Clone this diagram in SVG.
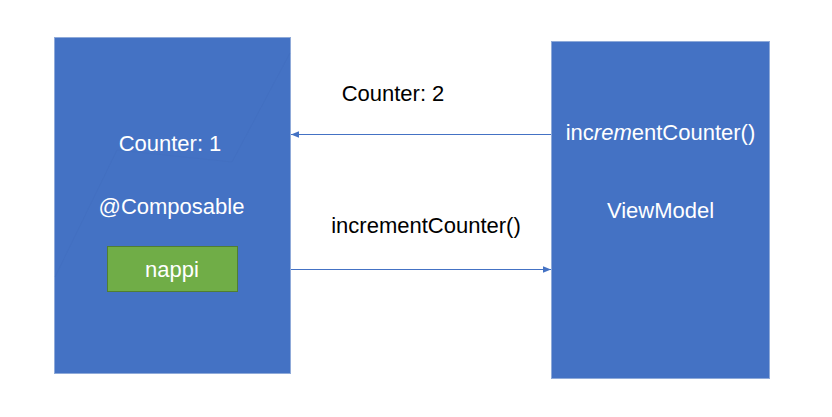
<svg xmlns="http://www.w3.org/2000/svg" width="832" height="417" viewBox="0 0 832 417">
<style>
.box{fill:#4472C4;stroke:#8FAAD9;stroke-width:1}
.btn{fill:#70AD47;stroke:#507E32;stroke-width:1}
.w{fill:#FFFFFF;font-family:"Liberation Sans","Open Sans",sans-serif;font-size:22px;text-anchor:middle}
.k{fill:#000000;font-family:"Liberation Sans","Open Sans",sans-serif;font-size:22px;text-anchor:middle}
.conn{stroke:#4472C4;stroke-width:1.2;fill:none}
</style>
<defs>
<marker id="ah" viewBox="0 0 10 10" refX="10" refY="5" markerWidth="8" markerHeight="8" markerUnits="userSpaceOnUse" orient="auto">
<path d="M0,1 L10,5 L0,9 Z" fill="#4472C4"/>
</marker>
</defs>
<rect width="832" height="417" fill="#FFFFFF"/>
<g id="composable">
<rect class="box" x="54.5" y="37.5" width="236" height="336"/>
<path d="M55,277 L117,150 L232,162 L290,53" stroke="#3F68B6" stroke-width="0.8" fill="none" opacity="0.3"/>
<text class="w" x="170" y="151">Counter: 1</text>
<text class="w" x="171.5" y="214">@Composable</text>
</g>
<g id="nappi">
<rect class="btn" x="107.5" y="246.5" width="130" height="45"/>
<text class="w" x="172" y="277">nappi</text>
</g>
<g id="viewmodel">
<rect class="box" x="551.5" y="41.5" width="218" height="337"/>
<text class="w" x="660.5" y="140">inc<tspan font-style="italic">rem</tspan>entCounter()</text>
<text class="w" x="660.5" y="218">ViewModel</text>
</g>
<g id="connectors">
<line class="conn" x1="551" y1="134.5" x2="291" y2="134.5" marker-end="url(#ah)"/>
<line class="conn" x1="291" y1="269.5" x2="551" y2="269.5" marker-end="url(#ah)"/>
<text class="k" x="393" y="101">Counter: 2</text>
<text class="k" x="426" y="233">incrementCounter()</text>
</g>
</svg>
